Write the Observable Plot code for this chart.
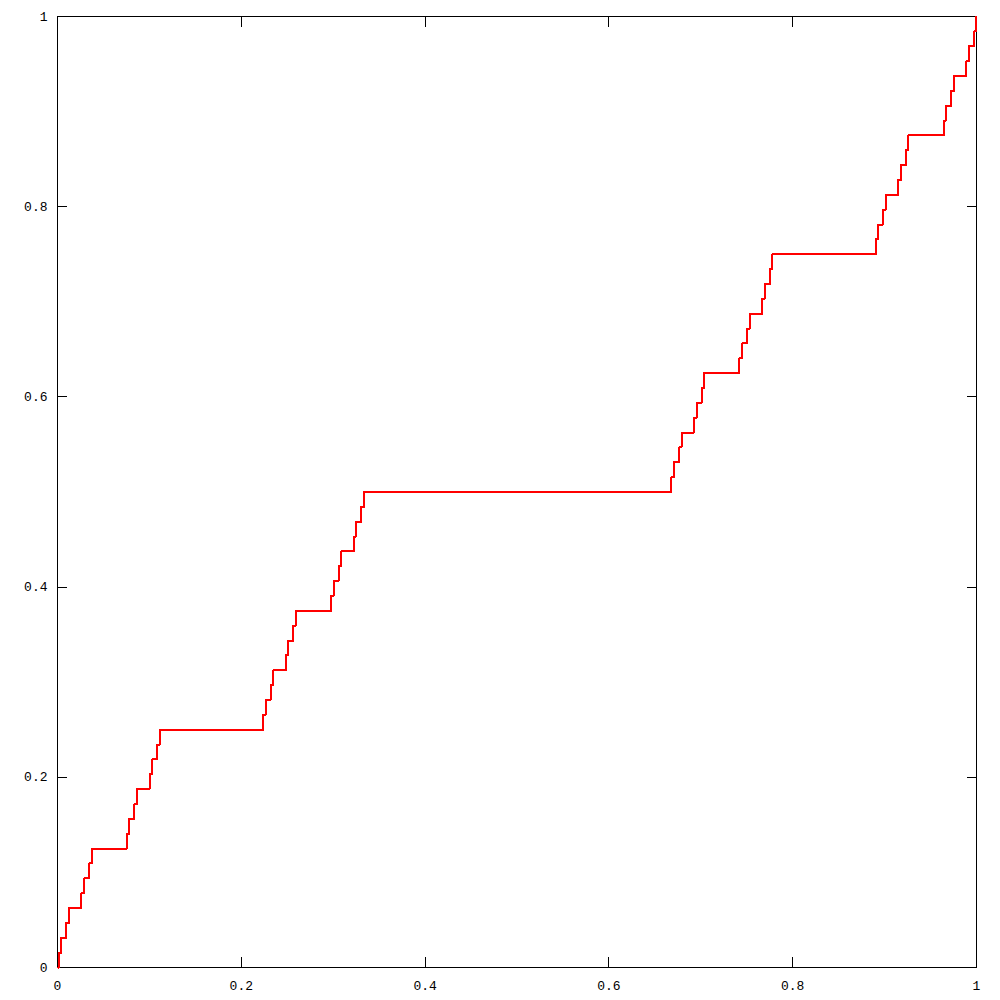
<!DOCTYPE html>
<html>
<head>
<meta charset="utf-8">
<script src="https://cdn.jsdelivr.net/npm/d3@7"></script>
<script src="https://cdn.jsdelivr.net/npm/@observablehq/plot@0.6"></script>
<style>
  html, body { margin: 0; padding: 0; background: #fff; }
  #chart { width: 1000px; height: 1000px; }
</style>
</head>
<body>
<div id="chart"></div>
<script>
// Step start positions (x) of each plateau of the staircase, and the plateau level (y)
const stepX = [0,
  0.00137, 0.00412, 0.00960, 0.01235, 0.02606, 0.02881, 0.03429, 0.03704,
  0.07545, 0.07819, 0.08368, 0.08642, 0.10014, 0.10288, 0.10837, 0.11111,
  0.22359, 0.22634, 0.23182, 0.23457, 0.24829, 0.25103, 0.25652, 0.25926,
  0.29767, 0.30041, 0.30590, 0.30864, 0.32236, 0.32510, 0.33059, 0.33333,
  0.66804, 0.67078, 0.67627, 0.67901, 0.69273, 0.69547, 0.70096, 0.70370,
  0.74211, 0.74486, 0.75034, 0.75309, 0.76680, 0.76955, 0.77503, 0.77778,
  0.89026, 0.89300, 0.89849, 0.90123, 0.91495, 0.91770, 0.92318, 0.92593,
  0.96433, 0.96708, 0.97257, 0.97531, 0.98903, 0.99177, 0.99726,
  0.999];
const stepY = [0,
  0.015625, 0.03125, 0.046875, 0.0625, 0.078125, 0.09375, 0.109375, 0.125,
  0.140625, 0.15625, 0.171875, 0.1875, 0.203125, 0.21875, 0.234375, 0.25,
  0.265625, 0.28125, 0.296875, 0.3125, 0.328125, 0.34375, 0.359375, 0.375,
  0.390625, 0.40625, 0.421875, 0.4375, 0.453125, 0.46875, 0.484375, 0.5,
  0.515625, 0.53125, 0.546875, 0.5625, 0.578125, 0.59375, 0.609375, 0.625,
  0.640625, 0.65625, 0.671875, 0.6875, 0.703125, 0.71875, 0.734375, 0.75,
  0.765625, 0.78125, 0.796875, 0.8125, 0.828125, 0.84375, 0.859375, 0.875,
  0.890625, 0.90625, 0.921875, 0.9375, 0.953125, 0.96875, 0.984375,
  1];

const tickValues = [0, 0.2, 0.4, 0.6, 0.8, 1];
const tickLabels = ["0", "0.2", "0.4", "0.6", "0.8", "1"];

const data = stepX.map((x, i) => ({x, y: stepY[i]}));
const fmt = d => tickLabels[tickValues.findIndex(t => Math.abs(t - d) < 1e-9)];

const chart = Plot.plot({
  width: 1000,
  height: 1000,
  marginLeft: 57,
  marginRight: 24,
  marginTop: 16,
  marginBottom: 33,
  style: {fontFamily: "'Liberation Mono', monospace", fontSize: "13px", background: "#fff", color: "#000"},
  x: {domain: [0, 1], ticks: tickValues, tickFormat: fmt},
  y: {domain: [0, 1], ticks: tickValues, tickFormat: fmt},
  marks: [
    Plot.frame({stroke: "#000", strokeWidth: 1, shapeRendering: "crispEdges"}),
    Plot.axisX(tickValues, {anchor: "bottom", tickSize: -10, tickPadding: 23, tickFormat: fmt, label: null, stroke: "#000", strokeOpacity: 1, shapeRendering: "crispEdges"}),
    Plot.axisX(tickValues, {anchor: "top", tickSize: -10, tickFormat: () => "", label: null, stroke: "#000", strokeOpacity: 1, shapeRendering: "crispEdges"}),
    Plot.axisY(tickValues, {anchor: "left", tickSize: -10, tickPadding: 20, tickFormat: fmt, label: null, stroke: "#000", strokeOpacity: 1, shapeRendering: "crispEdges"}),
    Plot.axisY(tickValues, {anchor: "right", tickSize: -10, tickFormat: () => "", label: null, stroke: "#000", strokeOpacity: 1, shapeRendering: "crispEdges"}),
    Plot.line(data, {x: "x", y: "y", curve: "step-after", stroke: "#ff0000", strokeWidth: 2, shapeRendering: "crispEdges"})
  ]
});
document.getElementById("chart").appendChild(chart);
</script>
</body>
</html>
